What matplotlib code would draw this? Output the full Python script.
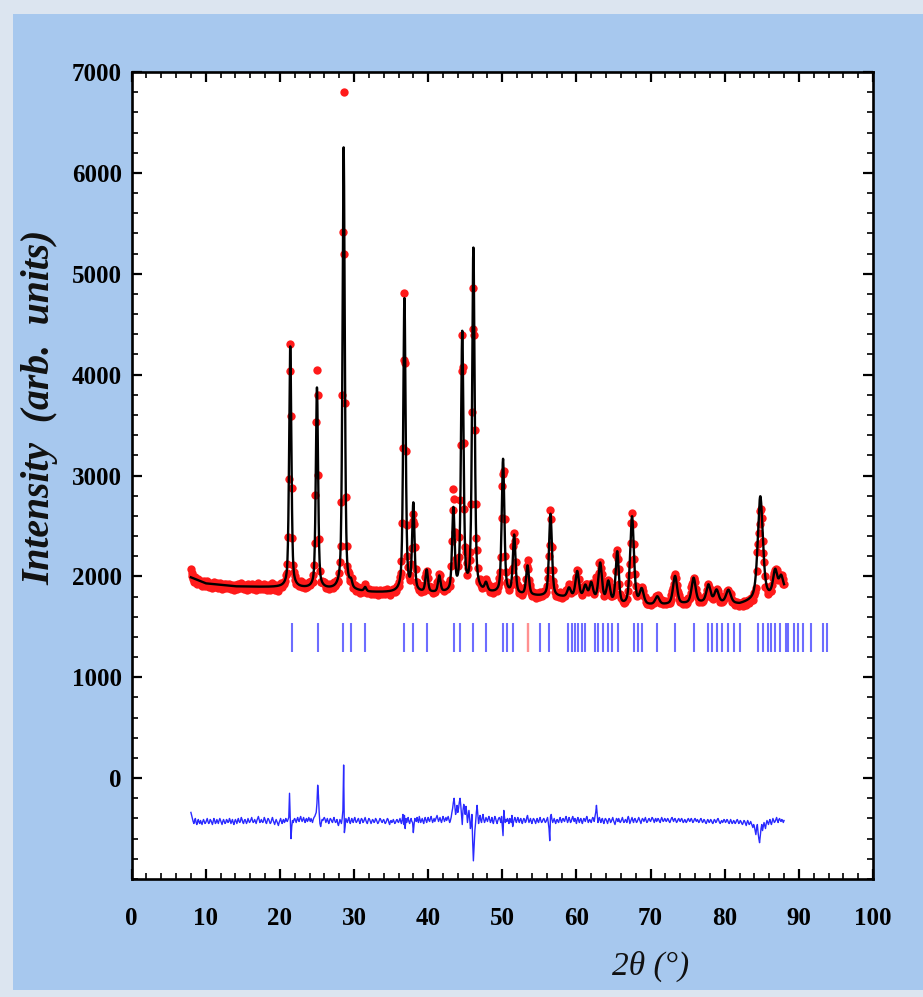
import numpy as np
import matplotlib
matplotlib.use("Agg")
import matplotlib.pyplot as plt
from matplotlib.ticker import MultipleLocator, FixedLocator
from matplotlib.patches import Rectangle

# ---------------- data ----------------
two_theta_start = 8.0
two_theta_step = 0.1

# background nodes of the calculated pattern
bg_pos = [8, 10, 14, 20, 26, 32, 40, 48, 55, 58, 62, 66, 70, 74, 78, 82, 86, 88]
bg_val = [1990, 1930, 1900, 1890, 1870, 1840, 1830, 1830, 1800, 1790, 1770, 1700,
          1710, 1720, 1740, 1720, 1790, 1850]

# calculated reflections: position (deg), height above background, FWHM (deg)
peak_pos = [21.4, 25.0, 28.6, 29.6, 31.5, 36.8, 38.0, 39.8, 41.5, 43.4, 44.6, 46.1,
            47.8, 50.1, 51.6, 53.4, 56.5, 59.0, 60.1, 61.2, 62.0, 63.2, 64.3, 65.5,
            67.5, 68.8, 70.9, 73.3, 75.8, 77.8, 78.9, 80.5, 84.8, 86.8, 87.6]
peak_height = [2390, 1990, 4390, 60, 40, 2910, 860, 220, 160, 810, 2560, 3400,
               80, 1330, 580, 290, 820, 90, 260, 120, 150, 370, 200, 520,
               880, 150, 80, 280, 250, 170, 120, 130, 1020, 230, 150]
peak_fwhm = [0.36, 0.36, 0.36, 0.36, 0.36, 0.38, 0.38, 0.4, 0.4, 0.4, 0.4, 0.4,
             0.45, 0.42, 0.42, 0.45, 0.46, 0.55, 0.55, 0.55, 0.55, 0.55, 0.55, 0.5,
             0.6, 0.65, 0.65, 0.65, 0.65, 0.65, 0.65, 0.75, 0.8, 0.65, 0.65]

# observed - calculated, in tens of counts, every 0.1 deg from 8.0 to 88.0
residual_tens = [
    8, 5, 2, -1, -3, 0, 2, -2, -4, -1, 1, -2, -3, 0, -2, -4, -1, 1, -1, -3,
    -2, 0, 2, -1, -3, -2, 1, 0, -2, -4, -1, 2, 0, -3, -2, 1, -1, -3, 0, 2,
    0, -2, -4, -1, 1, -1, -3, -2, 1, 0, -2, -1, 2, 0, -3, -1, 1, -2, -4, -1,
    1, -1, -3, 0, 2, -1, -2, 0, 3, 1, -2, -3, 0, 1, -1, -3, -1, 2, 0, -2,
    -1, 1, 3, 0, -2, -1, 1, -1, -3, 0, 2, 4, 1, -2, -1, 1, -1, -2, 0, 3,
    1, -2, -3, 0, 2, 1, -1, -3, -2, 1, 3, 0, -2, -4, -1, 1, -1, -3, -5, -2,
    0, 2, -1, -3, 0, 1, -2, -1, 2, 0, -1, 1, 3, 27, 2, -18, -6, 0, -2, 1,
    2, 0, -2, 1, 3, 0, -1, 2, 4, 1, -1, 1, 3, 0, -2, 1, 2, -1, 0, 3,
    1, -1, 2, 0, -2, 1, 3, 4, 6, 8, 17, 35, 25, 8, -3, -6, -2, 1, 0, 2,
    3, 1, -2, 0, 2, -1, -3, 0, 2, 1, -1, -2, 1, 3, 0, -2, -1, 1, -3, -5,
    -2, 1, -1, -3, 2, 10, 55, -12, -6, 2, 0, -2, 1, 3, -1, -3, 0, 2, -1, -2,
    1, 3, 0, -2, -1, 1, 2, -1, -3, 0, 2, 1, -2, -1, 1, 3, 0, -2, -3, 0,
    2, 1, -1, -3, -1, 1, 0, -2, -1, 2, 1, -1, -3, -2, 0, 2, 1, -1, -2, 0,
    1, -1, -3, -2, 0, 2, 1, -2, -4, -1, 0, -2, -1, 1, -1, -3, -2, 0, 1, -1,
    -2, 0, 2, -1, -3, 1, 6, -4, 5, -8, 2, -2, 1, 3, -1, -3, 0, 2, -1, -2,
    -12, -4, 2, 1, -1, 3, 0, -2, 4, 1, -2, 0, 2, -1, -3, 1, 3, 0, -2, 1,
    3, 0, -1, 2, 4, 1, -2, 0, 2, -1, 1, 3, 5, 2, -1, 1, 3, 0, -2, 1,
    4, 2, -1, 1, 3, 0, 2, 4, 1, -2, 0, 3, 8, 12, 18, 22, 14, 6, 10, 15,
    8, 12, 18, 22, 15, 6, -4, 10, 16, 12, 6, 14, 8, -2, 4, 10, 2, -8, -4, 6,
    -20, -40, -25, -10, -2, 8, 15, 6, -3, 2, 5, 0, -2, 3, 6, 1, -2, 0, 3, 1,
    -1, 2, 4, 1, -2, 0, 3, -1, -3, 1, 4, 2, -1, -3, 0, 2, 3, 1, -2, 4,
    -5, -15, 10, 3, -2, 1, -1, 2, 0, -3, 2, 1, -2, 5, -6, -2, 1, 3, 0, -2,
    1, 3, 0, -2, 1, 2, -1, -3, 0, 2, 1, -2, -1, 3, 5, 1, -2, 0, 2, -1,
    -3, 0, 2, 1, -1, -3, 0, 2, -1, -2, 1, 3, 0, -2, -1, 1, 2, 0, -2, -1,
    1, 3, -2, -8, -20, 4, 6, 1, -2, 0, 2, -1, -3, 0, 1, -1, -2, 1, 3, 0,
    -2, 1, 2, 0, -1, 2, 4, 1, -2, 0, 3, 1, -2, -1, 2, 4, 1, -1, 2, 0,
    -3, 1, 3, 0, -2, 1, 2, -1, -3, 0, 2, 1, -1, 2, 4, 1, -2, 0, 1, -1,
    -2, 1, 3, 2, -1, 4, 8, 15, 6, -2, 1, 3, 0, -2, 1, 2, -1, -3, 0, 2,
    1, -1, -3, 0, 2, 1, -2, -1, 1, 3, 0, -2, -4, -1, 2, 1, -1, 2, 0, -2,
    -1, 1, 3, 0, -2, -1, 1, 0, -2, 2, 4, 1, -3, -1, 1, 3, 0, -2, 1, 2,
    0, -2, -1, 1, 3, 1, -1, -3, 0, 2, 1, -1, 1, 3, 0, -2, -1, 1, 2, 0,
    -1, 1, 3, 2, 0, -2, 1, 2, -1, 0, 2, 1, -1, -2, 1, 3, 1, -1, 0, 2,
    1, -1, 0, 2, 1, -1, -2, 0, 2, 3, 1, -1, 1, 2, 0, -2, -1, 1, 2, 0,
    -1, 1, 2, 0, -2, -1, 1, 0, -2, -1, 1, 2, 0, -1, 1, 2, 0, -2, -1, 1,
    2, 0, -1, 1, 0, -2, -1, 1, 2, 0, -2, -1, 1, 0, -2, -3, -1, 1, 0, -2,
    -1, 1, 0, -2, -3, -1, 1, 0, -2, -1, 1, 2, 0, -2, -3, -1, 0, -2, -1, 1,
    0, -2, -1, 1, 0, -2, -3, -1, 1, -1, -3, -2, 0, -1, -3, -2, 0, 1, -1, -3,
    -2, 0, -1, -3, -4, -2, 0, -1, -3, -5, -2, 0, -2, -4, -3, -1, -3, -5, -7, -4,
    -6, -10, -14, -8, -4, -12, -18, -22, -15, -8, -4, -10, -6, -2, -5, -8, -3, 0, -2, -4,
    -1, 1, -2, -4, -1, 2, 0, -2, -1, 1, 3, 0, -2, 1, 2, 0, -1, 1, 0, -2,
    0,
]

diff_offset = -420

bragg_pos = [21.6, 25.2, 28.5, 29.6, 31.5, 36.8, 38.0, 39.9, 43.5, 44.3, 46.1, 47.8,
             50.1, 50.6, 51.5, 55.1, 56.3, 58.9, 59.4, 59.8, 60.2, 60.8, 61.2, 62.5,
             62.9, 63.6, 64.3, 64.8, 65.6, 67.7, 68.3, 68.9, 70.9, 73.3, 75.8, 77.8,
             78.3, 79.0, 79.7, 80.5, 81.2, 82.1, 84.5, 85.1, 85.8, 86.2, 86.8, 87.5,
             88.2, 88.6, 89.3, 89.9, 90.6, 91.6, 93.2, 93.8]
bragg_highlight = [53.5]
bragg_low, bragg_high = 1250, 1540

x_ticks = [0, 10, 20, 30, 40, 50, 60, 70, 80, 90, 100]
y_ticks = [0, 1000, 2000, 3000, 4000, 5000, 6000, 7000]

# ---------------- model evaluation ----------------
def pattern(x):
    x = np.asarray(x, dtype=float)
    y = np.interp(x, bg_pos, bg_val)
    for p, h, w in zip(peak_pos, peak_height, peak_fwhm):
        d = (x - p) / w
        gauss = np.exp(-4 * np.log(2) * d ** 2)
        lor = 1.0 / (1.0 + 4 * d ** 2)
        y = y + h * (0.5 * gauss + 0.5 * lor)
    return y

res = np.array(residual_tens, dtype=float) * 10
x_obs = two_theta_start + two_theta_step * np.arange(len(res))
calc_at_obs = pattern(x_obs)
y_obs = calc_at_obs + res
y_diff = y_obs - calc_at_obs + diff_offset

x_calc = np.linspace(x_obs[0], x_obs[-1], 4001)
y_calc = pattern(x_calc)

# ---------------- figure ----------------
W, H = 923, 997
fig = plt.figure(figsize=(W / 100, H / 100), dpi=100)
fig.patch.set_facecolor("#a7c8ee")
fig.patches.append(Rectangle((0, 1 - 14 / H), 1, 14 / H, transform=fig.transFigure,
                             facecolor="#dce5f0", edgecolor="none", zorder=0))
fig.patches.append(Rectangle((0, 0), 13 / W, 1, transform=fig.transFigure,
                             facecolor="#dce5f0", edgecolor="none", zorder=0))
fig.patches.append(Rectangle((0, 0), 1, 7 / H, transform=fig.transFigure,
                             facecolor="#dce5f0", edgecolor="none", zorder=0))

ax = fig.add_axes([131.6 / W, 1 - 879 / H, 741.4 / W, 807 / H])
ax.set_facecolor("white")

ax.plot(x_obs, y_obs, "o", color="#ff1a1a", markersize=6, markeredgewidth=0,
        zorder=2)
ax.plot(x_calc, y_calc, "-", color="black", linewidth=1.7, zorder=3)
ax.vlines(bragg_pos, bragg_low, bragg_high, color="#3c3cff", alpha=0.75,
          linewidth=1.5, zorder=2)
ax.vlines(bragg_highlight, bragg_low, bragg_high, color="#ff9090",
          linewidth=1.7, zorder=2)
ax.plot(x_obs, y_diff, "-", color="#2a2aff", linewidth=1.0, zorder=2)

ax.set_xlim(0, 100)
ax.set_ylim(-1000, 7000)
ax.xaxis.set_major_locator(FixedLocator(x_ticks))
ax.xaxis.set_minor_locator(MultipleLocator(2))
ax.yaxis.set_major_locator(FixedLocator(y_ticks))
ax.yaxis.set_minor_locator(MultipleLocator(200))

tick_font = dict(family=["Liberation Serif", "DejaVu Serif"], weight="bold", size=18)
ax.set_xticklabels([str(v) for v in x_ticks], fontdict=tick_font)
ax.set_yticklabels([str(v) for v in y_ticks], fontdict=tick_font)

ax.tick_params(which="both", direction="in", top=True, right=True, color="black")
ax.tick_params(which="major", length=7, width=1.6)
ax.tick_params(which="minor", length=4.5, width=1.2)
ax.tick_params(axis="x", which="major", pad=20)
ax.tick_params(axis="y", which="major", pad=7)
for s in ax.spines.values():
    s.set_linewidth(1.9)
    s.set_color("black")

fig.text(40 / W, 1 - 407 / H, "Intensity  (arb.  units)", rotation=90,
         ha="center", va="center", fontsize=28.5, fontweight="bold", fontstyle="italic",
         family=["Liberation Serif", "DejaVu Serif"], color="#111111")
fig.text(651 / W, 1 - 966 / H, "2\u03b8 (\u00b0)", ha="center", va="center",
         fontsize=24, fontstyle="italic",
         family=["Liberation Serif", "DejaVu Serif"], color="#111111")

fig.savefig("out.png", dpi=100, facecolor=fig.get_facecolor())
